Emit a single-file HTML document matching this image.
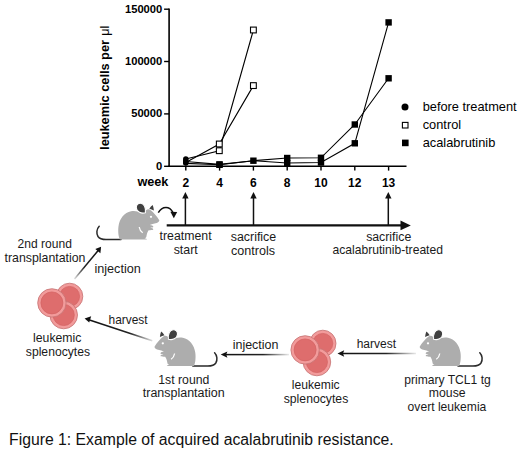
<!DOCTYPE html>
<html><head><meta charset="utf-8">
<style>
html,body{margin:0;padding:0;background:#fff;}
body{width:520px;height:450px;overflow:hidden;}
svg{display:block;}
text{font-family:"Liberation Sans",sans-serif;}
.ax{font-weight:bold;font-size:11px;fill:#000;}
.lg{font-size:12.8px;fill:#000;}
.dg{font-size:12.2px;fill:#1a1a1a;}
</style></head>
<body>
<svg width="520" height="450" viewBox="0 0 520 450">
<defs>
  <g id="mouse">
    <path d="M99.2,226.2 C96.5,229 96.2,233.5 98,236.5 C99.5,238.8 102,239.6 106,239.6 L121,239.6" fill="none" stroke="#2a2a2a" stroke-width="1.5" stroke-linecap="round"/>
    <path d="M119.9,239.6 C118.3,236.5 117.9,230.5 118.5,226.2 C119.5,218.5 124.5,212.3 131,211.2 C134,210.8 136,211.1 137.5,211.5 L145.6,210.5 C147,209.5 148.5,209.1 149.6,209.4 C152.5,211 156.8,215.8 159.4,220.5 C158.6,222.4 157,223 155.7,223.3 C153.5,223.8 151.5,224.3 149.8,224.9 C151.5,225.1 153.4,225.7 153.4,226.7 C153.4,227.5 151.6,227.5 150.3,227.6 C151.6,228.1 153.4,228.6 153.3,229.4 C153.1,230.3 150.2,229.9 148.6,230.2 C147.3,232 146.9,234 146.5,236 C146.3,237.3 145.8,238.1 144.5,238.5 C146,238.6 147,238.9 147,239.6 Z" fill="#adadad"/>
    <path d="M139.2,227 C139.6,229.6 140.7,231.4 142.7,232.8" fill="none" stroke="#fff" stroke-width="1.25"/>
    <path d="M145.4,212.7 C141.5,214 136.6,212 136.3,207.7 C136.1,204.8 138.1,203.2 140.6,203.3 C143.9,203.5 146,206.9 145.4,212.7 Z" fill="#404040" stroke="#fff" stroke-width="1.1"/>
    <path d="M149.3,208.7 C150.2,207.2 151.6,205.6 152.7,204.9 C153.3,206.5 153.8,208.5 153.9,210.4 C152.4,209.6 150.8,209 149.3,208.7 Z" fill="#404040"/>
    <circle cx="151" cy="216.8" r="1.15" fill="#fff"/>
  </g>
  <g id="cells">
    <circle cx="69.6" cy="296.4" r="13.2" fill="#f29b9b" stroke="#c47272" stroke-width="0.8"/>
    <circle cx="69.6" cy="296.4" r="10.0" fill="#de6d6d" stroke="#d26363" stroke-width="0.7"/>
    <circle cx="63.7" cy="315" r="13.8" fill="#f29b9b" stroke="#c47272" stroke-width="0.8"/>
    <circle cx="63.7" cy="315" r="10.6" fill="#de6d6d" stroke="#d26363" stroke-width="0.7"/>
    <circle cx="51.9" cy="302.9" r="14.2" fill="#f29b9b" stroke="#c47272" stroke-width="0.8"/>
    <circle cx="51.9" cy="302.9" r="11.0" fill="#de6d6d" stroke="#d26363" stroke-width="0.7"/>
  </g>
  <marker id="ah" viewBox="0 0 10 10" refX="9" refY="5" markerWidth="6" markerHeight="6" orient="auto-start-reverse" markerUnits="userSpaceOnUse">
    <path d="M0,0 L10,5 L0,10 Z" fill="#1a1a1a"/>
  </marker>
</defs>

<!-- ===== Chart ===== -->
<g stroke="#000" fill="none">
  <line x1="169.1" y1="8.5" x2="169.1" y2="167.1" stroke-width="1.6"/>
  <line x1="168.3" y1="166.3" x2="406.5" y2="166.3" stroke-width="1.6"/>
  <g stroke-width="1.4">
    <line x1="164.1" y1="9.2" x2="169" y2="9.2"/>
    <line x1="164.1" y1="61.5" x2="169" y2="61.5"/>
    <line x1="164.1" y1="113.9" x2="169" y2="113.9"/>
    <line x1="164.1" y1="166.3" x2="169" y2="166.3"/>
    <line x1="185.8" y1="166" x2="185.8" y2="170.6"/>
    <line x1="219.6" y1="166" x2="219.6" y2="170.6"/>
    <line x1="253.4" y1="166" x2="253.4" y2="170.6"/>
    <line x1="287.2" y1="166" x2="287.2" y2="170.6"/>
    <line x1="321" y1="166" x2="321" y2="170.6"/>
    <line x1="354.8" y1="166" x2="354.8" y2="170.6"/>
    <line x1="388.6" y1="166" x2="388.6" y2="170.6"/>
  </g>
</g>
<g class="ax" text-anchor="end" style="font-size:11.2px">
  <text x="162.3" y="12.9">150000</text>
  <text x="162.3" y="64.8">100000</text>
  <text x="162.3" y="117.4">50000</text>
  <text x="162.3" y="170">0</text>
</g>
<g class="ax" text-anchor="middle" style="font-size:12px">
  <text x="185.8" y="187.3">2</text>
  <text x="219.6" y="187.3">4</text>
  <text x="253.4" y="187.3">6</text>
  <text x="287.2" y="187.3">8</text>
  <text x="321" y="187.3">10</text>
  <text x="354.8" y="187.3">12</text>
  <text x="388.6" y="187.3">13</text>
</g>
<text x="137.4" y="186.1" style="font-weight:bold;font-size:12.7px">week</text>
<text transform="translate(108.9,149.9) rotate(-90)" style="font-weight:bold;font-size:12.75px">leukemic cells per</text>
<text transform="translate(108.9,35.85) rotate(-90)" style="font-size:12.6px">&#956;l</text>

<!-- data lines -->
<g stroke="#000" stroke-width="1.1" fill="none">
  <polyline points="185.8,162.4 219.3,144 253.4,85.6"/>
  <polyline points="185.8,159 219.3,150.7 253.4,30"/>
  <polyline points="185.8,161.5 219.5,164.4 253.4,160.7 287.2,158 321,157.8 354.8,124.5 388.6,78.3"/>
  <polyline points="185.8,163.4 219.5,164.8 253.4,160.7 287.2,163 321,162.5 354.8,143.3 388.6,22.4"/>
</g>
<!-- markers -->
<g fill="#000">
  <circle cx="185.8" cy="159" r="2.75"/>
  <circle cx="185.8" cy="160.8" r="2.75"/>
  <circle cx="185.8" cy="162.4" r="2.75"/>
  <circle cx="185.8" cy="163" r="2.75"/>
  <rect x="216.3" y="161.2" width="6.4" height="6.4"/>
  <rect x="216.3" y="161.6" width="6.4" height="6.4"/>
  <rect x="250.2" y="157.5" width="6.4" height="6.4"/>
  <rect x="284" y="154.8" width="6.4" height="6.4"/>
  <rect x="284" y="159.8" width="6.4" height="6.4"/>
  <rect x="317.8" y="154.6" width="6.4" height="6.4"/>
  <rect x="317.8" y="159.3" width="6.4" height="6.4"/>
  <rect x="351.6" y="121.3" width="6.4" height="6.4"/>
  <rect x="351.6" y="140.1" width="6.4" height="6.4"/>
  <rect x="385.4" y="19.2" width="6.4" height="6.4"/>
  <rect x="385.4" y="75.1" width="6.4" height="6.4"/>
</g>
<g fill="#fff" stroke="#000" stroke-width="1.1">
  <rect x="216.4" y="141.1" width="5.8" height="5.8"/>
  <rect x="216.4" y="147.8" width="5.8" height="5.8"/>
  <rect x="250.5" y="27.1" width="5.8" height="5.8"/>
  <rect x="250.5" y="82.7" width="5.8" height="5.8"/>
</g>

<!-- legend -->
<circle cx="405" cy="107" r="3.5" fill="#000"/>
<rect x="402.4" y="122.4" width="5.6" height="5.6" fill="#fff" stroke="#000" stroke-width="1.1"/>
<rect x="402" y="139.6" width="6.6" height="6.6" fill="#000"/>
<g class="lg">
  <text x="422.7" y="110.9">before treatment</text>
  <text x="422.7" y="128.9">control</text>
  <text x="422.7" y="147">acalabrutinib</text>
</g>

<!-- ===== Timeline ===== -->
<line x1="166.7" y1="225.4" x2="402" y2="225.4" stroke="#111" stroke-width="2.4"/>
<path d="M400.5,220.5 L410.8,225.4 L400.5,230.3 Z" fill="#111"/>
<g stroke="#111" stroke-width="1.5">
  <line x1="185.4" y1="197" x2="185.4" y2="225"/>
  <line x1="253.5" y1="197" x2="253.5" y2="225"/>
  <line x1="388.3" y1="197" x2="388.3" y2="225"/>
</g>
<g fill="#111">
  <path d="M182.2,198.4 L185.4,192.1 L188.6,198.4 Z"/>
  <path d="M250.3,198.4 L253.5,192.1 L256.7,198.4 Z"/>
  <path d="M385.1,198.4 L388.3,192.1 L391.5,198.4 Z"/>
</g>
<!-- curved arrow -->
<path d="M158.3,212.6 C160.5,208.6 163,207.4 166,207.4 C169,207.4 171.3,209.3 172.8,212.2" fill="none" stroke="#111" stroke-width="1.5"/>
<path d="M170.4,211.7 L177.2,211.9 L173.8,218.2 Z" fill="#111"/>

<g class="dg">
  <text x="159.62" y="239.5" style="font-size:12.31px">treatment</text>
  <text x="173.63" y="253.5" style="font-size:12.4px">start</text>
  <text x="230.73" y="240.5" style="font-size:12.42px">sacrifice</text>
  <text x="231.03" y="254.5" style="font-size:12.6px">controls</text>
  <text x="366.13" y="240.8" style="font-size:12.31px">sacrifice</text>
  <text x="332.45" y="254.0" style="font-size:12.14px">acalabrutinib-treated</text>
  <text x="17.60" y="247.8" style="font-size:12.05px">2nd round</text>
  <text x="4.51" y="261.9" style="font-size:12.35px">transplantation</text>
  <text x="94.38" y="273.0" style="font-size:12.68px">injection</text>
  <text x="108.57" y="323.6" style="font-size:11.91px">harvest</text>
  <text x="33.10" y="341.8" style="font-size:12.24px">leukemic</text>
  <text x="25.84" y="355.5" style="font-size:12.16px">splenocytes</text>
  <text x="232.69" y="348.5" style="font-size:12.49px">injection</text>
  <text x="356.66" y="348.4" style="font-size:12.00px">harvest</text>
  <text x="158.28" y="383.5" style="font-size:12.26px">1st round</text>
  <text x="142.81" y="396.8" style="font-size:12.47px">transplantation</text>
  <text x="291.81" y="389.2" style="font-size:12.14px">leukemic</text>
  <text x="283.73" y="403.0" style="font-size:12.23px">splenocytes</text>
  <text x="404.21" y="383.5" style="font-size:12.12px">primary TCL1 tg</text>
  <text x="428.80" y="397.0" style="font-size:12.25px">mouse</text>
  <text x="407.62" y="410.8" style="font-size:12.12px">overt leukemia</text>
</g>

<!-- arrows lower -->
<defs>
  <linearGradient id="g1" gradientUnits="userSpaceOnUse" x1="99" y1="249.5" x2="74.5" y2="279"><stop offset="0" stop-color="#111"/><stop offset="0.6" stop-color="#222"/><stop offset="1" stop-color="#222" stop-opacity="0.15"/></linearGradient>
  <linearGradient id="g2" gradientUnits="userSpaceOnUse" x1="88" y1="319.5" x2="152.3" y2="340.8"><stop offset="0" stop-color="#111"/><stop offset="0.65" stop-color="#222"/><stop offset="1" stop-color="#222" stop-opacity="0.15"/></linearGradient>
  <linearGradient id="g3" gradientUnits="userSpaceOnUse" x1="224" y1="0" x2="289" y2="0"><stop offset="0" stop-color="#111"/><stop offset="0.6" stop-color="#222"/><stop offset="1" stop-color="#222" stop-opacity="0.1"/></linearGradient>
  <linearGradient id="g4" gradientUnits="userSpaceOnUse" x1="341" y1="0" x2="416" y2="0"><stop offset="0" stop-color="#111"/><stop offset="0.6" stop-color="#222"/><stop offset="1" stop-color="#222" stop-opacity="0.1"/></linearGradient>
</defs>
<path d="M74.5,279 L99,249.5" stroke="url(#g1)" stroke-width="1.5" fill="none"/>
<path d="M152.3,340.8 L88,319.5" stroke="url(#g2)" stroke-width="1.5" fill="none"/>
<rect x="224" y="353.85" width="65" height="1.5" fill="url(#g3)"/>
<rect x="341" y="352.75" width="75" height="1.5" fill="url(#g4)"/>
<g fill="#111">
  <path d="M101.1,246.7 L100.4,253.3 L95.3,249 Z"/>
  <path d="M84.6,318.5 L91.2,316.3 L89.2,322.5 Z"/>
  <path d="M220.7,354.6 L227.4,351.4 L226.2,354.6 L227.4,357.8 Z"/>
  <path d="M337.5,353.5 L344.2,350.3 L343,353.5 L344.2,356.7 Z"/>
</g>

<!-- icons -->
<use href="#mouse"/>
<use href="#mouse" transform="translate(313.8,126.5) scale(-1,1)"/>
<use href="#mouse" transform="translate(579,126.5) scale(-1,1)"/>
<use href="#cells"/>
<use href="#cells" transform="translate(253.2,47)"/>

<!-- caption -->
<text x="9.0" y="444.5" style="font-size:15.78px;fill:#111">Figure 1: Example of acquired acalabrutinib resistance.</text>
</svg>
</body></html>
